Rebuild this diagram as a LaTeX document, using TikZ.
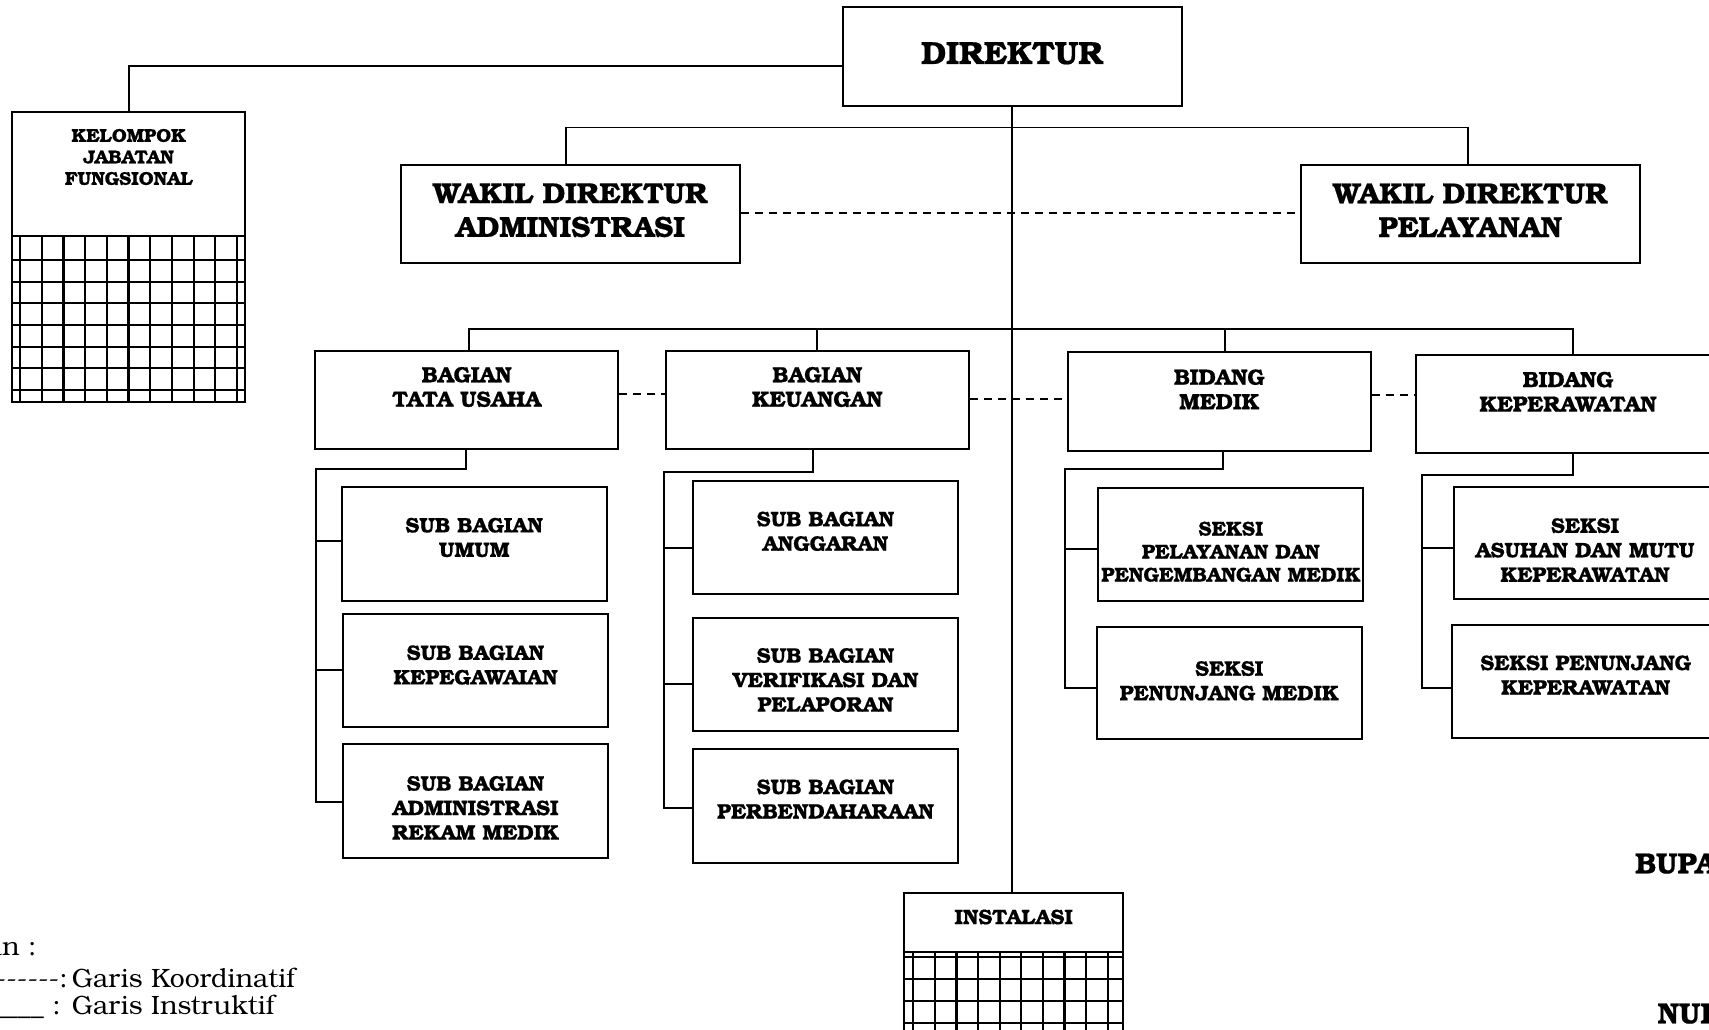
\documentclass[tikz,border=0pt]{standalone}
\usepackage{fontspec}
\setmainfont{TeX Gyre Bonum}[BoldFeatures={FakeBold=0.6}]
\begin{document}
\begin{tikzpicture}[x=1pt,y=-1pt,
 obox/.style={draw, line width=2pt, rectangle, inner sep=0pt},
 ln/.style={line width=1.8pt},
 coordln/.style={line width=1.8pt, dash pattern=on 8pt off 6pt},
 ttop/.style={font=\fontsize{32}{36}\selectfont\bfseries, align=center, inner sep=0pt},
 tbig/.style={font=\fontsize{29}{33.7}\selectfont\bfseries, align=center, inner sep=0pt},
 tmid/.style={font=\fontsize{22}{24.5}\selectfont\bfseries, align=center, inner sep=0pt},
 tsub/.style={font=\fontsize{21}{24.5}\selectfont\bfseries, align=center, inner sep=0pt},
 tsubn/.style={font=\fontsize{20}{23}\selectfont\bfseries, align=center, inner sep=0pt},
 tsmall/.style={font=\fontsize{18.5}{21.5}\selectfont\bfseries, align=center, inner sep=0pt},
 leg/.style={font=\fontsize{26.5}{30}\selectfont, inner sep=0pt},
 gridln/.style={line width=2.2pt}]
\useasboundingbox (0,0) rectangle (1709,1029);
\clip (0,0) rectangle (1709,1029);
\newcommand\orgbox[8]{%
 \node[obox, minimum width={#4-#2}, minimum height={#5-#3}] (#1) at ({(#2+#4)/2},{(#3+#5)/2}) {};
 \node[#6] (#1-t) at ({(#2+#4)/2},#7) {#8};}
% top level
\orgbox{dir}{842.7}{7.3}{1181.7}{106}{ttop}{53.3}{DIREKTUR}
\orgbox{wda}{400.7}{164.7}{740}{263.3}{tbig}{210.3}{WAKIL DIREKTUR\\ADMINISTRASI}
\orgbox{wdp}{1300.7}{164.7}{1640}{263.3}{tbig}{210.3}{WAKIL DIREKTUR\\PELAYANAN}
\orgbox{kjf}{12.3}{111.7}{245}{401.7}{tsmall}{157}{KELOMPOK\\JABATAN\\FUNGSIONAL}
% bagian / bidang
\orgbox{tu}{315}{351}{618.3}{449.3}{tmid}{387}{BAGIAN\\TATA USAHA}
\orgbox{keu}{665.7}{351}{969}{449.3}{tmid}{387}{BAGIAN\\KEUANGAN}
\orgbox{med}{1067.7}{352.3}{1370.7}{451}{tmid}{389.3}{BIDANG\\MEDIK}
\orgbox{kep}{1416}{355}{1720}{453.3}{tmid}{391.7}{BIDANG\\KEPERAWATAN}
% sub bagian
\orgbox{sumum}{341.7}{487.3}{606.7}{600.7}{tsub}{537.5}{SUB BAGIAN\\UMUM}
\orgbox{skep}{342.7}{614}{608.3}{727.3}{tsub}{665}{SUB BAGIAN\\KEPEGAWAIAN}
\orgbox{sadm}{342.7}{744}{608.3}{858.3}{tsub}{807.8}{SUB BAGIAN\\ADMINISTRASI\\REKAM MEDIK}
\orgbox{sang}{692.7}{481}{958.3}{594.3}{tsub}{531.3}{SUB BAGIAN\\ANGGARAN}
\orgbox{sver}{692.7}{617.7}{958.3}{730.7}{tsub}{680}{SUB BAGIAN\\VERIFIKASI DAN\\PELAPORAN}
\orgbox{sper}{692.7}{749}{958.3}{862.7}{tsub}{799}{SUB BAGIAN\\PERBENDAHARAAN}
% seksi
\orgbox{spel}{1098.3}{488.3}{1363.3}{601}{tsubn}{551.7}{SEKSI\\PELAYANAN DAN\\PENGEMBANGAN MEDIK}
\orgbox{spm}{1096.7}{626.7}{1361.7}{739.3}{tsub}{680.8}{SEKSI\\PENUNJANG MEDIK}
\orgbox{sasu}{1454}{486.7}{1716}{599.3}{tsub}{550}{SEKSI\\ASUHAN DAN MUTU\\KEPERAWATAN}
\orgbox{spk}{1452.3}{625}{1719}{738.3}{tsub}{675}{SEKSI PENUNJANG\\KEPERAWATAN}
% instalasi
\orgbox{inst}{904}{892.7}{1123.3}{1070}{tsub}{917}{INSTALASI}
% grids
\draw[ln] (12.3,236) -- (245,236);
\foreach \i in {0,...,10} \draw[gridln] ({20+21.7*\i},236) -- ({20+21.7*\i},401.7);
\foreach \j in {0,...,6} \draw[gridln] (12.3,{260+21.67*\j}) -- (245,{260+21.67*\j});
\draw[ln] (904,951.7) -- (1123.3,951.7);
\foreach \i in {0,...,9} \draw[gridln] ({913.3+21.6*\i},951.7) -- ({913.3+21.6*\i},1070);
\foreach \j in {0,...,4} \draw[gridln] (904,{957.3+22*\j}) -- (1123.3,{957.3+22*\j});
% instruktif lines
\draw[ln] (dir.south) -- (dir.south |- inst.north);
\draw[ln] (dir.west |- 0,66) -| (kjf.north);
\coordinate (wbar) at (1012.3,127.5);
\draw[ln] ([xshift=-4.6pt]wda.north) |- (wbar) -| ([xshift=-2pt]wdp.north);
\coordinate (bbar) at (1012.3,329.3);
\draw[ln] ([xshift=2.3pt]tu.north) |- (bbar) -| ([xshift=5.3pt]kep.north);
\draw[ln] (keu.north) -- (keu.north |- bbar);
\draw[ln] ([xshift=6pt]med.north) -- ([xshift=6pt]med.north |- bbar);
% tata usaha subtree
\coordinate (t0) at (315.7,469.3);
\coordinate (t1) at (315.7,540.7);
\coordinate (t2) at (315.7,670);
\coordinate (t3) at (315.7,801.7);
\draw[ln] ([xshift=-1pt]tu.south) |- (t0) -- (t3) -- (sadm.west |- t3);
\draw[ln] (t1) -- (sumum.west |- t1);
\draw[ln] (t2) -- (skep.west |- t2);
% keuangan subtree
\coordinate (k0) at (664.3,472.3);
\coordinate (k1) at (664.3,548.3);
\coordinate (k2) at (664.3,684);
\coordinate (k3) at (664.3,808.3);
\draw[ln] ([xshift=-4pt]keu.south) |- (k0) -- (k3) -- (sper.west |- k3);
\draw[ln] (k1) -- (sang.west |- k1);
\draw[ln] (k2) -- (sver.west |- k2);
% medik subtree
\coordinate (m0) at (1065,469.3);
\coordinate (m1) at (1065,549);
\coordinate (m2) at (1065,688.3);
\draw[ln] ([xshift=3.5pt]med.south) |- (m0) -- (m2) -- (spm.west |- m2);
\draw[ln] (m1) -- (spel.west |- m1);
% keperawatan subtree
\coordinate (p0) at (1421.7,475);
\coordinate (p1) at (1421.7,548.3);
\coordinate (p2) at (1421.7,688.3);
\draw[ln] ([xshift=5.3pt]kep.south) |- (p0) -- (p2) -- (spk.west |- p2);
\draw[ln] (p1) -- (sasu.west |- p1);
% koordinatif lines
\draw[coordln] (wda.east |- 0,212.7) -- (wdp.west |- 0,212.7);
\draw[coordln] (tu.east |- 0,394.3) -- (keu.west |- 0,394.3);
\draw[coordln] (keu.east |- 0,398.7) -- (med.west |- 0,398.7);
\draw[coordln] (med.east |- 0,395) -- (kep.west |- 0,395);
% legend
\node[leg, anchor=base east] (leg0) at (36.7,955) {Keterangan :};
\node[leg, anchor=base east] (leg1a) at (68,987.3) {-{}-{}-{}-{}-{}-:};
\node[leg, anchor=base west] (leg1b) at (71.7,987.3) {Garis Koordinatif};
\node[leg, anchor=base east] (leg2a) at (61,1014) {\_\_\_\_\_ :};
\node[leg, anchor=base west] (leg2b) at (71.7,1014) {Garis Instruktif};
% signature
\node[font=\fontsize{29}{34}\selectfont\bfseries, anchor=base west, inner sep=0pt] (bup) at (1635,873.3) {BUPA};
\node[font=\fontsize{29}{34}\selectfont\bfseries, anchor=base west, inner sep=0pt] (nui) at (1657.3,1023.3) {NUI};
\end{tikzpicture}
\end{document}
